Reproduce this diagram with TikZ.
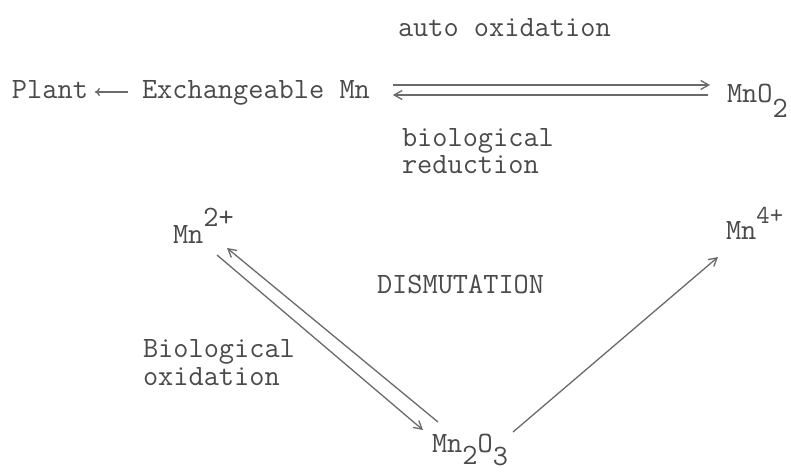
\documentclass[tikz,border=0pt]{standalone}
\usetikzlibrary{arrows.meta,calc}
\definecolor{ink}{HTML}{4A4A4A}
\definecolor{lineink}{HTML}{6A6A6A}
\tikzset{
  lbl/.style={anchor=base west, inner sep=0pt, outer sep=0pt, text=ink,
    font=\ttfamily\fontsize{29.5}{34}\selectfont},
  arr/.style={draw=lineink, line width=1.3pt,
    -{Straight Barb[length=8pt,width=9pt,line width=1.3pt]}},
  plantarr/.style={draw=lineink, line width=1.4pt,
    -{To[length=5pt,width=8pt]}}
}
\newcommand{\dn}[2]{\raisebox{-#1pt}{#2}}
\begin{document}
\begin{tikzpicture}[x=1pt,y=-1pt]
\useasboundingbox (0,0) rectangle (791,472);
\fill[white] (0,0) rectangle (791,472);
% texts
\node[lbl] (auto) at (398,36) {auto oxidation};
\node[lbl] (Plant) at (12,98) {Plant};
\node[lbl] (Exch) at (142,98) {Exchangeable Mn};
\node[lbl] (MnO2) at (727,102) {MnO\dn{15}{2}};
\node[lbl] (bio) at (402,146) {biological};
\node[lbl] (red) at (402,173) {reduction};
\node[lbl] (Mn2) at (173,243) {Mn\raisebox{17pt}{2+}};
\node[lbl] (Mn4) at (726,239) {Mn\raisebox{16pt}{\fontsize{26}{30}\selectfont 4+}};
\node[lbl] (dis) at (377,293) {DISMUTATION};
\node[lbl] (Bio) at (143,357) {Biological};
\node[lbl] (oxi) at (143,385) {oxidation};
\node[lbl] (M23) at (432,452) {Mn\dn{12}{2}O\dn{13}{3}};
% connectors
\draw[plantarr] ($(Exch.base west)+(-14,-6)$) -- ($(Plant.base east)+(7,-6)$);
\draw[arr] ($(Exch.base east)+(23,-13)$) -- ($(MnO2.base west)+(-17,-17)$);
\draw[arr] ($(MnO2.base west)+(-19,-7)$) -- ($(Exch.base east)+(23,-3)$);
\draw[arr] ($(M23.base west)+(6,-30)$) -- ($(Mn2.base west)+(54,5)$);
\draw[arr] ($(Mn2.base west)+(44,12)$) -- ($(M23.base west)+(-9,-22)$);
\draw[arr] ($(M23.base west)+(81,-20)$) -- ($(Mn4.base west)+(-8,18)$);
\end{tikzpicture}
\end{document}
